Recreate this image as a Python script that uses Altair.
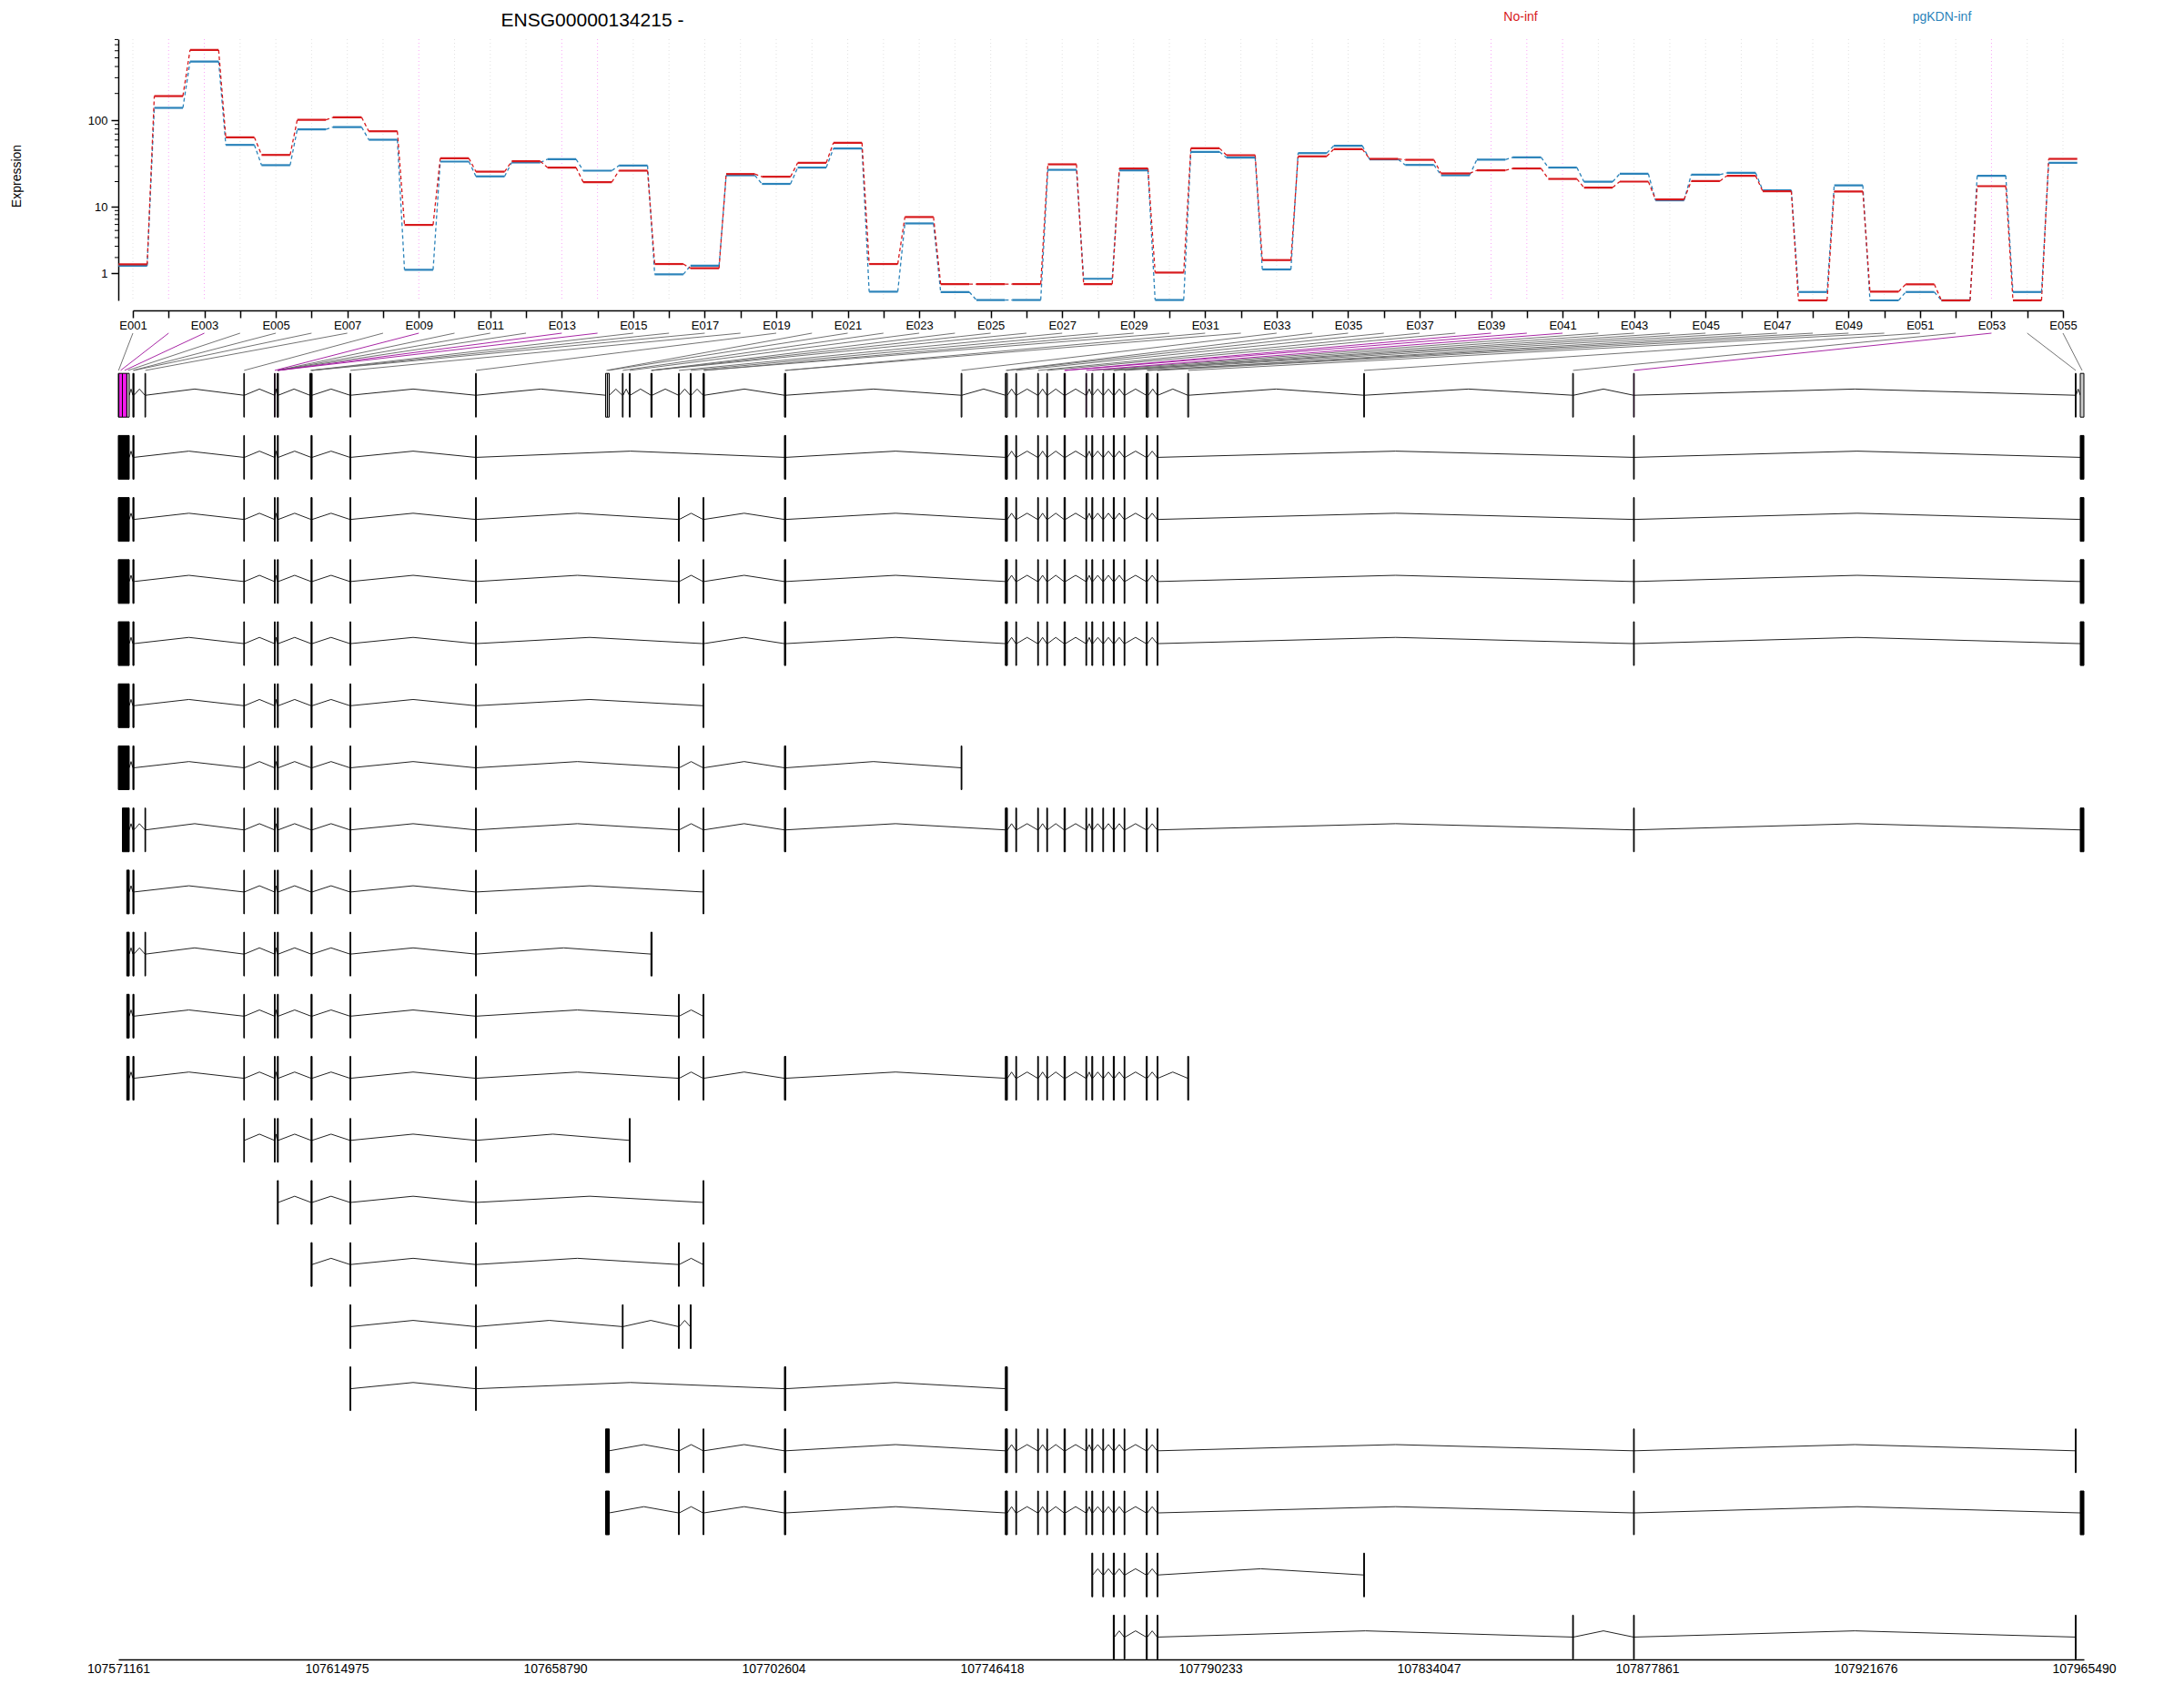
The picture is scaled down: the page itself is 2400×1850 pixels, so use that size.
import math
import altair as alt
import pandas as pd

FONT = "Liberation Sans"

# ---------------- data ----------------
GENE_ID = "ENSG00000134215"
STRAND = "-"
conditions = ["No-inf", "pgKDN-inf"]
condition_colors = ["#D7191C", "#2B83BA"]

exon_ids = ["E%03d" % i for i in range(1, 56)]

expr_no_inf = [1.52, 187, 611, 64.3, 40.6, 101.5, 108, 75.3, 5.92, 37.2,
               26.1, 34.4, 29.1, 19.7, 26.8, 1.54, 1.28, 24.5, 22.8, 33.0,
               55.8, 1.54, 7.47, 0.52, 0.52, 0.52, 31.7, 0.52, 28.4, 1.04,
               48.4, 40.3, 1.81, 39.1, 47.3, 36.6, 35.7, 24.9, 27.0, 28.4,
               21.5, 17.0, 20.0, 12.3, 20.3, 23.4, 15.4, 0.0, 15.3, 0.25,
               0.51, 0.0, 17.7, 0.0, 36.6]
expr_pgkdn_inf = [1.43, 138, 455, 52.8, 31.0, 79, 84, 60.4, 1.19, 34.1,
                  23.0, 33.3, 36.3, 26.8, 30.7, 0.95, 1.43, 23.7, 18.8, 29.1,
                  48.0, 0.25, 6.19, 0.24, 0.01, 0.01, 27.4, 0.74, 27.0, 0.01,
                  44.0, 37.8, 1.21, 42.6, 51.6, 36.1, 31.2, 23.7, 35.8, 38.1,
                  29.1, 19.9, 24.7, 12.0, 24.1, 25.3, 15.8, 0.24, 18.1, 0.0,
                  0.24, 0.0, 23.4, 0.24, 33.0]

significant = ["E002", "E003", "E009", "E013", "E014", "E039", "E040", "E041", "E053"]

exon_start = [107571161, 107571271, 107571983, 107572859, 107574082, 107574191, 107576510,
              107596336, 107602488, 107603073, 107603109, 107603146, 107603182, 107603218,
              107609589, 107609827, 107609936, 107617641, 107642834, 107668922, 107669287,
              107672281, 107673687, 107678014, 107678087, 107678160, 107683545, 107685905,
              107688474, 107688638, 107704796, 107704941, 107740248, 107749121, 107749322,
              107751219, 107755601, 107757427, 107760896, 107761023, 107765277, 107766464,
              107768673, 107770772, 107770882, 107772945, 107777381, 107777582, 107779571,
              107785704, 107821013, 107862928, 107875142, 107963774, 107964760]
exon_end = [107571271, 107571983, 107572859, 107573352, 107574191, 107574301, 107576638,
            107596464, 107602616, 107603109, 107603146, 107603182, 107603218, 107603255,
            107609827, 107609936, 107610046, 107617786, 107642980, 107669287, 107669652,
            107672427, 107673834, 107678087, 107678160, 107678251, 107683691, 107686085,
            107688638, 107688730, 107704941, 107705067, 107740394, 107749322, 107749522,
            107751365, 107755747, 107757573, 107761023, 107761151, 107765424, 107766647,
            107768819, 107770882, 107770991, 107773091, 107777582, 107777801, 107779717,
            107785887, 107821159, 107863074, 107875288, 107963920, 107965490]

# exonic parts (1-based numbers) grouped by locus
loci = {
    "A": [1, 2, 3, 4], "A2": [3, 4], "A3": [4], "B": [5, 6], "C": [7], "D": [8],
    "E": [9], "F": [10, 11, 12, 13, 14], "G": [16, 17], "H": [18], "I": [19],
    "J": [20, 21], "K": [22], "L": [23], "M": [24, 25, 26], "N": [27], "O": [28],
    "P": [29], "Q": [31, 32], "R": [33], "S": [34, 35], "T": [36], "U": [37],
    "V": [38], "W": [39, 40], "X": [41], "Y": [42], "Z": [43], "AA": [44, 45],
    "AB": [46], "AC": [47], "AD": [49], "AE": [50], "AF": [51], "AG": [52],
    "AH": [53], "AI": [54], "AJ": [55],
}

transcripts = [
    "A B D E F G H I Q S T U V W X Y Z AA AB AC AD AH AJ",
    "A B D E F G H I N P Q S T U V W X Y Z AA AB AC AD AH AJ",
    "A B D E F G H I N P Q S T U V W X Y Z AA AB AC AD AH AJ",
    "A B D E F G H I P Q S T U V W X Y Z AA AB AC AD AH AJ",
    "A B D E F G H I P",
    "A B D E F G H I N P Q R",
    "A2 B C D E F G H I N P Q S T U V W X Y Z AA AB AC AD AH AJ",
    "A3 B D E F G H I P",
    "A3 B C D E F G H I M",
    "A3 B D E F G H I N P",
    "A3 B D E F G H I N P Q S T U V W X Y Z AA AB AC AD AE",
    "D E F G H I L",
    "F G H I P",
    "G H I N P",
    "H I K N O",
    "H I Q S",
    "J N P Q S T U V W X Y Z AA AB AC AD AH AI",
    "J N P Q S T U V W X Y Z AA AB AC AD AH AJ",
    "Y Z AA AB AC AD AF",
    "AA AB AC AD AG AH AI",
]

genomic_ticks = [107571161, 107614975, 107658790, 107702604, 107746418,
                 107790233, 107834047, 107877861, 107921676, 107965490]
expr_major_ticks = [1, 10, 100]
expr_minor_ticks = [2, 3, 4, 5, 6, 7, 8, 9, 20, 30, 40, 50, 60, 70, 80, 90,
                    200, 300, 400, 500, 600, 700, 800]

# ---------------- layout constants ----------------
W, H = 2160, 1780
EXPR_TOP = 2.908
EXPR_RANGE = [287, 0]
EXON_RANGE = [16, 2137]
ROW_DOMAIN = [0, 21.36]
ROW_RANGE = [323, 1780]
HALF = 0.352
PEAK = 0.1
HS = 0.4
G0, G1 = genomic_ticks[0], genomic_ticks[-1]


def lg(v):
    return math.log10(v + 1)


# ---------------- expression tables ----------------
seg_rows, con_rows = [], []
for cond, vals in [(conditions[1], expr_pgkdn_inf), (conditions[0], expr_no_inf)]:
    for i, v in enumerate(vals, start=1):
        seg_rows.append(dict(cond=cond, x=i - HS, x2=i + HS, y=lg(v)))
        if i < len(vals):
            con_rows.append(dict(cond=cond, x=i + HS, x2=i + 1 - HS, y=lg(v), y2=lg(vals[i])))
seg_df = pd.DataFrame(seg_rows)
con_df = pd.DataFrame(con_rows)

exon_df = pd.DataFrame({"exon": exon_ids, "idx": list(range(1, 56)),
                        "start": exon_start, "end": exon_end})
exon_df["sig"] = exon_df["exon"].isin(significant).map({True: "yes", False: "no"})
exon_df["top"] = EXPR_TOP
exon_df["bot"] = 0.0
exon_df["mid"] = (exon_df["start"] + exon_df["end"]) / 2
step = (EXON_RANGE[1] - EXON_RANGE[0]) / 54
exon_df["lab_g"] = G0 + (EXON_RANGE[0] + (exon_df["idx"] - 1) * step) * (G1 - G0) / W
exon_df["y0"] = 0.0
exon_df["y1"] = 0.6
exon_df["ry"] = 1 - HALF
exon_df["ry2"] = 1 + HALF

minor_df = pd.DataFrame({"y": [lg(v) for v in expr_minor_ticks]})


# ---------------- gene model tables ----------------
def blocks_of(parts):
    out = []
    for p in sorted(set(parts)):
        s, e = exon_start[p - 1], exon_end[p - 1]
        if out and out[-1][1] == s:
            out[-1][1] = e
        else:
            out.append([s, e])
    return out


def intron_rows(blocks, row):
    rows = []
    for (s0, e0), (s1, e1) in zip(blocks, blocks[1:]):
        mid = (e0 + s1) / 2
        rows.append(dict(x=e0, x2=mid, y=row, y2=row - PEAK))
        rows.append(dict(x=mid, x2=s1, y=row - PEAK, y2=row))
    return rows


intr = intron_rows(blocks_of(range(1, 56)), 1)
blk = []
for t, names in enumerate(transcripts):
    row = t + 2
    parts = [p for n in names.split() for p in loci[n]]
    b = blocks_of(parts)
    intr += intron_rows(b, row)
    for s, e in b:
        blk.append(dict(start=s, end=e, y=row - HALF, y2=row + HALF))
intr_df = pd.DataFrame(intr)
blk_df = pd.DataFrame(blk)

# ---------------- encodings ----------------
exon_axis = alt.Axis(values=list(range(1, 56)),
                     labelExpr="datum.value % 2 == 1 ? 'E' + format(datum.value, '03d') : ''",
                     orient="bottom", offset=-(H - 298), grid=False, title=None,
                     tickSize=8, tickWidth=1.5, domainWidth=1.5, labelFontSize=13,
                     labelPadding=2, labelOverlap=False, labelFlush=False)
expr_axis = alt.Axis(values=[lg(v) for v in expr_major_ticks],
                     labelExpr="format(pow(10, datum.value) - 1, '.0f')",
                     title="Expression", titleFontSize=14, titleFontWeight="normal",
                     titleX=-112, titleY=150, titleAlign="center", titleBaseline="middle",
                     grid=False, tickSize=8, tickWidth=1.5, domainWidth=1.5,
                     labelFontSize=13, labelPadding=4)
gen_axis = alt.Axis(values=genomic_ticks, format="d", ticks=False, grid=False, title=None,
                    orient="bottom", labelFontSize=14, domainWidth=1.5, labelPadding=3,
                    labelFlush=False, labelOverlap=False)


def ex(f):
    return alt.X(f + ":Q", scale=alt.Scale(domain=[1, 55], range=EXON_RANGE, nice=False, zero=False),
                 axis=exon_axis)


def ey(f):
    return alt.Y(f + ":Q", scale=alt.Scale(domain=[0, EXPR_TOP], range=EXPR_RANGE, nice=False, zero=False),
                 axis=expr_axis)


def gx(f):
    return alt.X(f + ":Q", scale=alt.Scale(domain=[G0, G1], nice=False, zero=False), axis=gen_axis)


def gy(f):
    return alt.Y(f + ":Q", scale=alt.Scale(domain=ROW_DOMAIN, range=ROW_RANGE, nice=False, zero=False),
                 axis=None)


cond_color = alt.Color("cond:N", scale=alt.Scale(domain=conditions, range=condition_colors), legend=None)

# ---------------- expression panel ----------------
grid_ns = alt.Chart(exon_df).transform_filter("datum.sig == 'no'").mark_rule(
    color="#B3B3B3", strokeOpacity=0.4, strokeDash=[1, 3], strokeWidth=1).encode(
    x=ex("idx"), y=ey("top"), y2="bot")
grid_sig = alt.Chart(exon_df).transform_filter("datum.sig == 'yes'").mark_rule(
    color="#F219ED", strokeOpacity=0.4, strokeDash=[1, 3], strokeWidth=1).encode(
    x=ex("idx"), y=ey("top"), y2="bot")
minor = alt.Chart(minor_df).mark_rule(color="black", strokeWidth=1).encode(
    y=ey("y"), x=alt.value(0), x2=alt.value(-4))
connectors = alt.Chart(con_df).mark_rule(strokeWidth=1.3, strokeDash=[4, 3]).encode(
    x=ex("x"), x2="x2", y=ey("y"), y2="y2", color=cond_color)
segments = alt.Chart(seg_df).mark_rule(strokeWidth=2.2).encode(
    x=ex("x"), x2="x2", y=ey("y"), color=cond_color)
title_txt = alt.Chart(pd.DataFrame({"t": [GENE_ID + " " + STRAND]})).mark_text(
    font=FONT, fontSize=21, align="center", baseline="alphabetic", color="black").encode(
    text="t:N", x=alt.value(521), y=alt.value(-14))
leg1 = alt.Chart(pd.DataFrame({"t": [conditions[0]]})).mark_text(
    font=FONT, fontSize=14, align="center", baseline="alphabetic", color=condition_colors[0]).encode(
    text="t:N", x=alt.value(1541), y=alt.value(-20))
leg2 = alt.Chart(pd.DataFrame({"t": [conditions[1]]})).mark_text(
    font=FONT, fontSize=14, align="center", baseline="alphabetic", color=condition_colors[1]).encode(
    text="t:N", x=alt.value(2004), y=alt.value(-20))

expr_panel = alt.layer(grid_ns, grid_sig, minor, connectors, segments, title_txt, leg1, leg2)

# ---------------- gene model panel ----------------
link_ns = alt.Chart(exon_df).transform_filter("datum.sig == 'no'").mark_rule(
    color="#636363", strokeWidth=0.9).encode(x=gx("lab_g"), x2="mid", y=gy("y0"), y2="y1")
link_sig = alt.Chart(exon_df).transform_filter("datum.sig == 'yes'").mark_rule(
    color="#9E109B", strokeWidth=0.9).encode(x=gx("lab_g"), x2="mid", y=gy("y0"), y2="y1")
introns = alt.Chart(intr_df).mark_rule(color="#222222", strokeWidth=1).encode(
    x=gx("x"), x2="x2", y=gy("y"), y2="y2")
parts_ns = alt.Chart(exon_df).transform_filter("datum.sig == 'no'").mark_rect(
    fill="#CCCCCC", stroke="black", strokeWidth=1).encode(
    x=gx("start"), x2="end", y=gy("ry"), y2="ry2")
parts_sig = alt.Chart(exon_df).transform_filter("datum.sig == 'yes'").mark_rect(
    fill="#F219ED", stroke="black", strokeWidth=1).encode(
    x=gx("start"), x2="end", y=gy("ry"), y2="ry2")
tx_exons = alt.Chart(blk_df).mark_rect(fill="black", stroke="black", strokeWidth=1).encode(
    x=gx("start"), x2="end", y=gy("y"), y2="y2")

gene_panel = alt.layer(link_ns, link_sig, introns, parts_ns, parts_sig, tx_exons)

chart = alt.layer(expr_panel, gene_panel).resolve_scale(
    x="independent", y="independent").resolve_axis(
    x="independent", y="independent").properties(
    width=W, height=H,
    autosize=alt.AutoSizeParams(type="none"),
    padding={"left": 122, "top": 35, "right": 100, "bottom": 30},
).configure_view(strokeWidth=0).configure_axis(
    labelFont=FONT, titleFont=FONT, labelColor="black", titleColor="black",
    domainColor="black", tickColor="black")

chart.save("out.html", embed_options={"renderer": "svg", "actions": False})
